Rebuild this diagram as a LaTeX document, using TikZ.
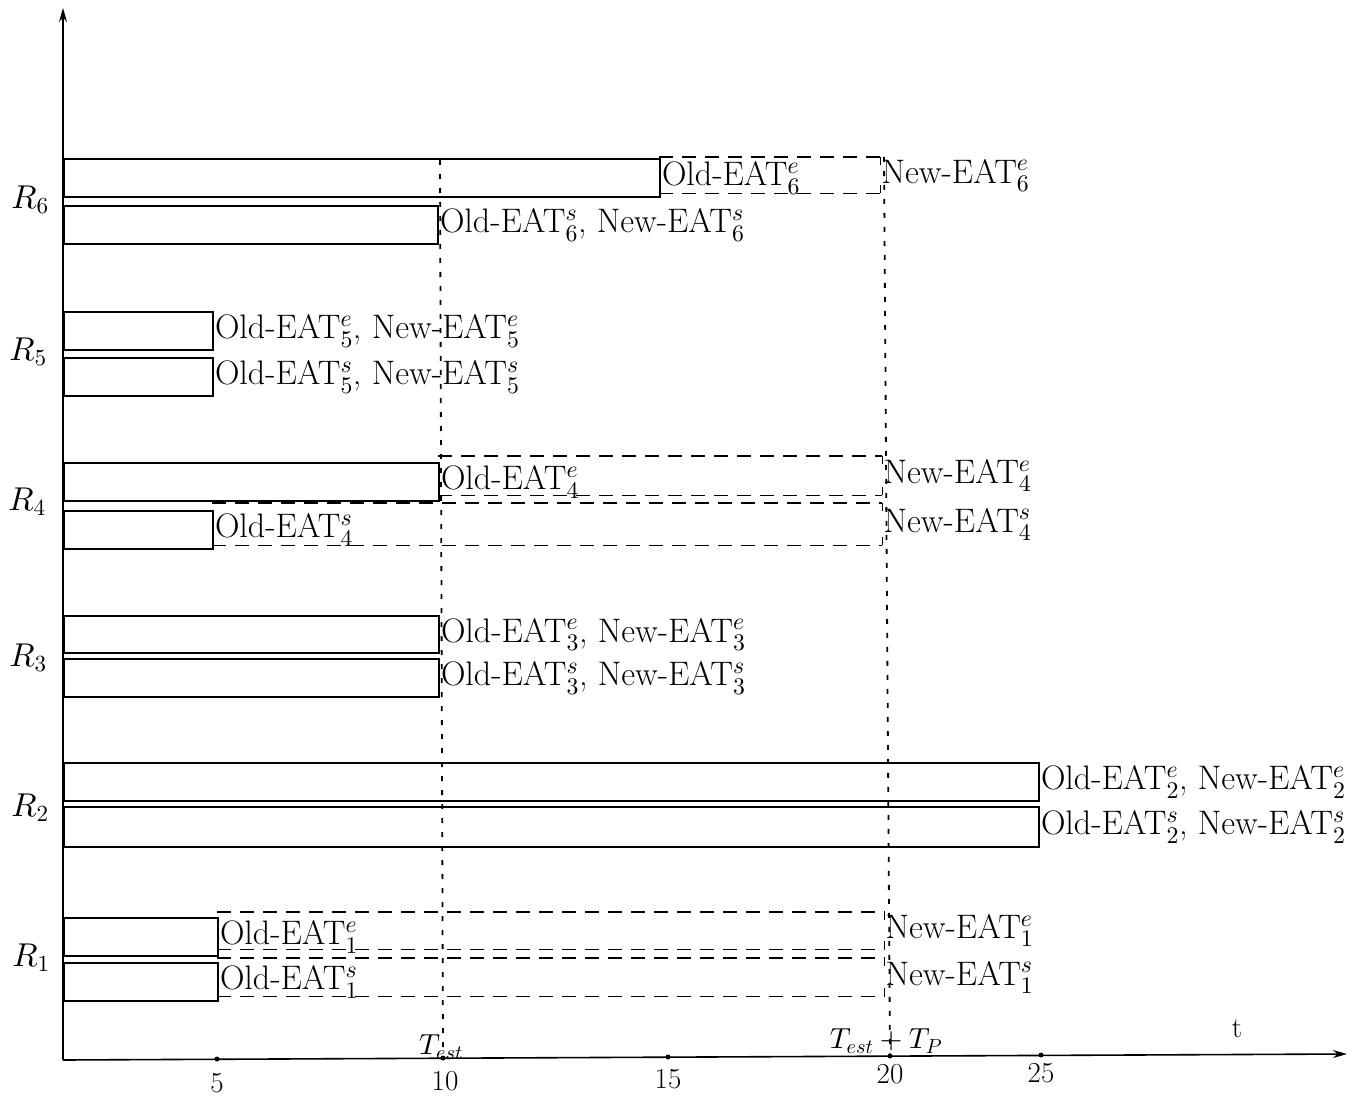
\documentclass[tikz,border=0pt]{standalone}
\DeclareFontShape{OML}{cmm}{m}{it}{<->cmmi10}{\skewchar\font=127}
\DeclareFontShape{OT1}{cmr}{m}{n}{<->cmr10}{}
\DeclareFontShape{OMS}{cmsy}{m}{n}{<->cmsy10}{\skewchar\font=48}
\usetikzlibrary{arrows.meta}
\begin{document}
\begin{tikzpicture}[x=1pt,y=-1pt,
  bar/.style={draw, line width=1.8pt, inner sep=0pt, anchor=north west},
  ext/.style={draw=none, inner sep=0pt, anchor=north west},
  dline/.style={line width=1.6pt, dash pattern=on 14pt off 9pt},
  corner/.style={line width=1.6pt},
  guide/.style={line width=1.8pt, dash pattern=on 5pt off 9pt},
  lbl/.style={anchor=west, inner sep=1pt, font=\fontsize{34}{38}\selectfont},
  rlbl/.style={inner sep=0pt, font=\fontsize{33}{37}\selectfont},
  tlbl/.style={inner sep=0pt, font=\fontsize{29}{33}\selectfont},
  axis/.style={line width=1.6pt, -{Stealth[length=14pt,width=8pt]}},
  tick/.style={circle, fill, inner sep=0pt, minimum size=5pt}]
\useasboundingbox (0,0) rectangle (1357,1099);

% axes
\coordinate (O) at (63,1060);
\coordinate (ytop) at (63,8);
\coordinate (xend) at (1347,1054);
\draw[axis] (O) -- (ytop);
\draw[axis] (O) -- (xend);

% ticks
\node[tick] (t5) at (217,1059) {};
\node[tick] (t10) at (443,1058) {};
\node[tick] (t15) at (668,1057) {};
\node[tick] (t20) at (890,1056) {};
\node[tick] (t25) at (1041,1055) {};
\node[tlbl] (n5) at (217,1083) {5};
\node[tlbl] (n10) at (445,1081) {10};
\node[tlbl] (n15) at (668,1079) {15};
\node[tlbl] (n20) at (890,1074) {20};
\node[tlbl] (n25) at (1041,1073) {25};
\node[tlbl] (test) at (441,1047) {$T_{est}$};
\node[tlbl] (testp) at (886,1041) {$T_{est} + T_P$};
\node[tlbl] (tt) at (1237,1029) {t};

% row labels
\node[rlbl] (R6) at (30,200) {$R_6$};
\node[rlbl] (R5) at (28,352) {$R_5$};
\node[rlbl] (R4) at (27,502) {$R_4$};
\node[rlbl] (R3) at (28,658) {$R_3$};
\node[rlbl] (R2) at (30,808) {$R_2$};
\node[rlbl] (R1) at (31,958) {$R_1$};

% guide lines
\coordinate (g10top) at (440,160);
\coordinate (g20top) at (884,157);
\draw[guide] (g10top) -- (t10);
\draw[guide] (g20top) -- (t20);

% R6
\node[bar, minimum width=596pt, minimum height=38pt] (b6e) at (63,158) {};
\node[ext, minimum width=221pt, minimum height=36pt] (x6e) at (659,157) {};
\node[bar, minimum width=374pt, minimum height=38pt] (b6s) at (63,205) {};
\node[lbl] (l6e) at (b6e.east) {Old-EAT$_6^e$};
\node[lbl] (m6e) at (x6e.east) {New-EAT$_6^e$};
\node[lbl] (l6s) at (b6s.east) {Old-EAT$_6^s$, New-EAT$_6^s$};

% R5
\node[bar, minimum width=149pt, minimum height=38pt] (b5e) at (63,311) {};
\node[bar, minimum width=149pt, minimum height=38pt] (b5s) at (63,357) {};
\node[lbl] (l5e) at (b5e.east) {Old-EAT$_5^e$, New-EAT$_5^e$};
\node[lbl] (l5s) at (b5s.east) {Old-EAT$_5^s$, New-EAT$_5^s$};

% R4
\node[bar, minimum width=375pt, minimum height=38pt] (b4e) at (63,462) {};
\node[ext, minimum width=444pt, minimum height=39pt] (x4e) at (438,456) {};
\node[bar, minimum width=149pt, minimum height=38pt] (b4s) at (63,510) {};
\node[ext, minimum width=670pt, minimum height=42pt] (x4s) at (212,503) {};
\node[lbl] (l4e) at (b4e.east) {Old-EAT$_4^e$};
\node[lbl] (l4s) at (b4s.east) {Old-EAT$_4^s$};
\node[lbl] (m4e) at (x4e.east) {New-EAT$_4^e$};
\node[lbl] (m4s) at (x4s.east) {New-EAT$_4^s$};

% R3
\node[bar, minimum width=375pt, minimum height=37pt] (b3e) at (63,615) {};
\node[bar, minimum width=375pt, minimum height=38pt] (b3s) at (63,658) {};
\node[lbl] (l3e) at (b3e.east) {Old-EAT$_3^e$, New-EAT$_3^e$};
\node[lbl] (l3s) at (b3s.east) {Old-EAT$_3^s$, New-EAT$_3^s$};

% R2
\node[bar, minimum width=975pt, minimum height=38pt] (b2e) at (63,762) {};
\node[bar, minimum width=975pt, minimum height=40pt] (b2s) at (63,806) {};
\node[lbl] (l2e) at (b2e.east) {Old-EAT$_2^e$, New-EAT$_2^e$};
\node[lbl] (l2s) at (b2s.east) {Old-EAT$_2^s$, New-EAT$_2^s$};

% R1
\node[bar, minimum width=154pt, minimum height=38pt] (b1e) at (63,917) {};
\node[ext, minimum width=667pt, minimum height=37pt] (x1e) at (217,912) {};
\node[bar, minimum width=154pt, minimum height=38pt] (b1s) at (63,962) {};
\node[ext, minimum width=667pt, minimum height=38pt] (x1s) at (217,958) {};
\node[lbl] (l1e) at (b1e.east) {Old-EAT$_1^e$};
\node[lbl] (l1s) at (b1s.east) {Old-EAT$_1^s$};
\node[lbl] (m1e) at (x1e.east) {New-EAT$_1^e$};
\node[lbl] (m1s) at (x1s.east) {New-EAT$_1^s$};

% dashed extensions
\foreach \x in {x6e,x4e,x4s,x1e,x1s}{
  \draw[dline] (\x.north west) -- (\x.north east);
  \draw[dline] (\x.south west) -- (\x.south east);
  \draw[corner] (\x.north east) -- ++(0,8);
  \draw[corner] (\x.south east) -- ++(0,-8);
}
\end{tikzpicture}
\end{document}
